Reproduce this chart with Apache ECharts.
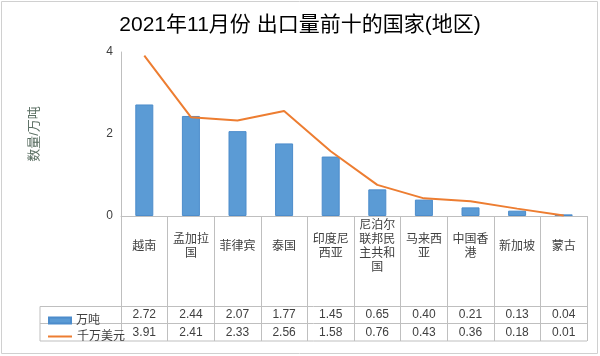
<!DOCTYPE html>
<html>
<head>
<meta charset="utf-8">
<script src="https://cdn.jsdelivr.net/npm/echarts@6/dist/echarts.min.js"></script>
<style>
html,body{margin:0;padding:0;background:#fff;}
#main{width:600px;height:356px;}
</style>
</head>
<body>
<div id="main"></div>
<script>
const titleText = '2021年11月份 出口量前十的国家(地区)';
const categories = ['越南','孟加拉国','菲律宾','泰国','印度尼西亚','尼泊尔联邦民主共和国','马来西亚','中国香港','新加坡','蒙古'];
const tonsName = '万吨';
const tons = [2.72, 2.44, 2.07, 1.77, 1.45, 0.65, 0.40, 0.21, 0.13, 0.04];
const usdName = '千万美元';
const usd = [3.91, 2.41, 2.33, 2.56, 1.58, 0.76, 0.43, 0.36, 0.18, 0.01];
const yTicks = [0, 2, 4];
const yName = '数量/万吨';

const FONT = '"Liberation Sans","Noto Sans CJK SC",sans-serif';
const GRID_L = 121, GRID_R = 13, GRID_T = 52, GRID_B = 140;
const AXIS_Y = 356 - GRID_B; // 216
const ROW1_TOP = 306.5, ROW2_TOP = 323.5, TABLE_BOTTOM = 341, TABLE_LEFT = 40;
const lineColor = '#bfbfbf';

function wrap3(s){
  let out = [];
  for (let i = 0; i < s.length; i += 3) out.push(s.slice(i, i + 3));
  return out.join('\n');
}

const chart = echarts.init(document.getElementById('main'), null, {renderer: 'canvas'});
const option = {
  backgroundColor: '#fff',
  animation: false,
  title: {
    text: titleText,
    left: 'center',
    top: 10,
    textStyle: {fontFamily: FONT, fontSize: 21, fontWeight: 'normal', color: '#000'}
  },
  legend: [
    {
      data: [tonsName],
      left: TABLE_LEFT + 3,
      top: ROW1_TOP + 3,
      orient: 'horizontal',
      icon: 'rect',
      itemWidth: 22,
      itemHeight: 6,
      itemGap: 6,
      selectedMode: false,
      textStyle: {fontFamily: FONT, fontSize: 12, color: '#404040'}
    },
    {
      data: [usdName],
      left: TABLE_LEFT + 3,
      top: ROW2_TOP + 2,
      orient: 'horizontal',
      icon: 'rect',
      itemWidth: 24,
      itemHeight: 2,
      itemGap: 5,
      selectedMode: false,
      textStyle: {fontFamily: FONT, fontSize: 12, color: '#404040'}
    }
  ],
  grid: {left: GRID_L, right: GRID_R, top: GRID_T, bottom: GRID_B, containLabel: false},
  xAxis: [
    {
      type: 'category',
      data: categories,
      boundaryGap: true,
      axisLine: {show: true, lineStyle: {color: lineColor, width: 1}},
      axisTick: {show: true, length: TABLE_BOTTOM - AXIS_Y, lineStyle: {color: lineColor, width: 1}},
      axisLabel: {
        interval: 0,
        margin: 31,
        verticalAlign: 'middle',
        lineHeight: 14,
        fontFamily: FONT,
        fontSize: 12,
        color: '#404040',
        formatter: v => wrap3(v)
      },
      splitLine: {show: false}
    },
    {
      type: 'category',
      data: tons.map(v => v.toFixed(2)),
      position: 'bottom',
      offset: (ROW1_TOP + ROW2_TOP) / 2 - AXIS_Y,
      axisLine: {show: false},
      axisTick: {show: false},
      axisLabel: {interval: 0, margin: 0, verticalAlign: 'middle', fontFamily: FONT, fontSize: 12, color: '#404040'}
    },
    {
      type: 'category',
      data: usd.map(v => v.toFixed(2)),
      position: 'bottom',
      offset: (ROW2_TOP + TABLE_BOTTOM) / 2 - AXIS_Y,
      axisLine: {show: false},
      axisTick: {show: false},
      axisLabel: {interval: 0, margin: 0, verticalAlign: 'middle', fontFamily: FONT, fontSize: 12, color: '#404040'}
    }
  ],
  yAxis: {
    type: 'value',
    min: yTicks[0],
    max: yTicks[yTicks.length - 1],
    interval: yTicks[1] - yTicks[0],
    name: yName,
    nameLocation: 'middle',
    nameRotate: 90,
    nameGap: 80,
    nameTextStyle: {fontFamily: FONT, fontSize: 13, color: '#5a6e62'},
    axisLine: {show: true, lineStyle: {color: lineColor, width: 1}},
    axisTick: {show: false},
    splitLine: {show: false},
    axisLabel: {margin: 8, fontFamily: FONT, fontSize: 12, color: '#404040'}
  },
  series: [
    {
      name: tonsName,
      type: 'bar',
      data: tons,
      barWidth: 18,
      itemStyle: {color: '#5B9BD5', borderColor: '#4C8CCB', borderWidth: 1}
    },
    {
      name: usdName,
      type: 'line',
      data: usd,
      symbol: 'none',
      lineStyle: {color: '#ED7D31', width: 2},
      itemStyle: {color: '#ED7D31'}
    }
  ],
  graphic: [
    {type: 'rect', shape: {x: 1.5, y: 1.5, width: 596, height: 352}, style: {fill: 'none', stroke: '#d0d0d0', lineWidth: 1}, silent: true, z: -1},
    {type: 'line', shape: {x1: TABLE_LEFT, y1: ROW1_TOP, x2: 600 - GRID_R, y2: ROW1_TOP}, style: {stroke: lineColor, lineWidth: 1}},
    {type: 'line', shape: {x1: TABLE_LEFT, y1: ROW2_TOP, x2: 600 - GRID_R, y2: ROW2_TOP}, style: {stroke: lineColor, lineWidth: 1}},
    {type: 'line', shape: {x1: TABLE_LEFT, y1: TABLE_BOTTOM, x2: 600 - GRID_R, y2: TABLE_BOTTOM}, style: {stroke: lineColor, lineWidth: 1}},
    {type: 'line', shape: {x1: TABLE_LEFT, y1: ROW1_TOP, x2: TABLE_LEFT, y2: TABLE_BOTTOM}, style: {stroke: lineColor, lineWidth: 1}}
  ]
};
chart.setOption(option);
</script>
</body>
</html>
